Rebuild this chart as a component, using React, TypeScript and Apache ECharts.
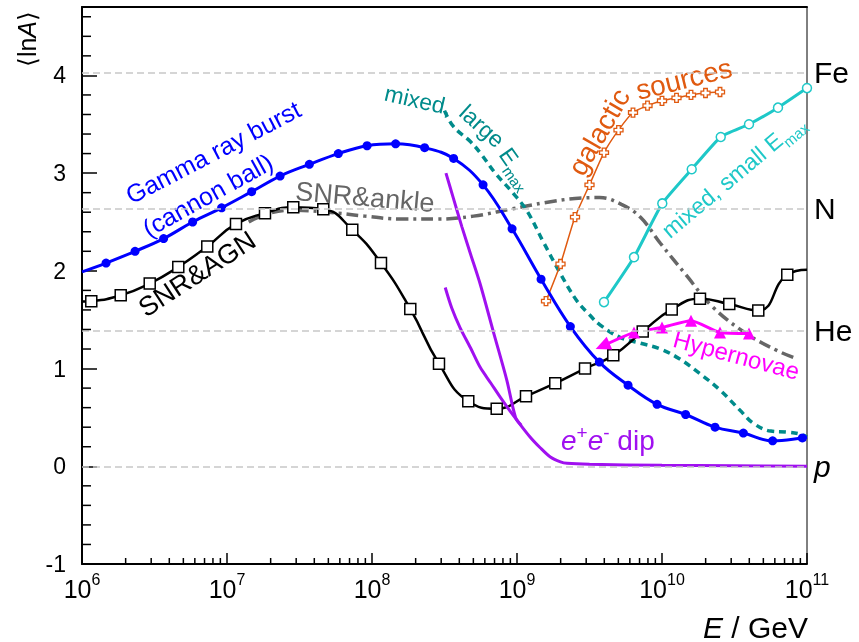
import React, { useEffect, useRef } from 'react';
import * as echarts from 'echarts';

const FONT = '"Liberation Sans", Arial, Helvetica, sans-serif';

// ---- data (x: log10(E/GeV), y: <lnA>) ----
// SNR & AGN (black, open squares)
const snrAgnLogE = [6.0, 6.064, 6.267, 6.467, 6.664, 6.864, 7.062, 7.262, 7.457, 7.664, 7.864, 8.062, 8.264, 8.462, 8.664, 8.86, 9.062, 9.264, 9.469, 9.664, 9.867, 10.067, 10.262, 10.464, 10.664, 10.864, 11.0];
const snrAgnLnA = [1.685, 1.69, 1.75, 1.87, 2.04, 2.25, 2.48, 2.59, 2.65, 2.63, 2.42, 2.08, 1.61, 1.05, 0.665, 0.59, 0.716, 0.85, 1.0, 1.135, 1.38, 1.605, 1.715, 1.66, 1.595, 1.96, 2.01];

// Gamma ray burst (cannon ball) (blue, filled circles)
const grbLogE = [6.0, 6.166, 6.366, 6.563, 6.763, 6.963, 7.17, 7.366, 7.568, 7.768, 7.966, 8.163, 8.363, 8.563, 8.766, 8.966, 9.166, 9.368, 9.568, 9.766, 9.966, 10.163, 10.366, 10.561, 10.763, 10.968, 11.0];
const grbLnA = [1.99, 2.08, 2.2, 2.33, 2.5, 2.645, 2.81, 2.97, 3.09, 3.2, 3.28, 3.3, 3.26, 3.15, 2.88, 2.43, 1.915, 1.43, 1.066, 0.83, 0.634, 0.53, 0.4, 0.34, 0.26, 0.29, 0.3];

// SNR & ankle (grey dash-dot)
const ankleLogE = [7.15, 7.27, 7.45, 7.7, 7.95, 8.2, 8.45, 8.7, 8.95, 9.2, 9.4, 9.57, 9.72, 9.85, 9.99, 10.17, 10.35, 10.58, 10.8, 10.93];
const ankleLnA = [2.5, 2.58, 2.62, 2.6, 2.56, 2.53, 2.53, 2.56, 2.63, 2.7, 2.74, 2.75, 2.68, 2.55, 2.28, 1.95, 1.63, 1.36, 1.18, 1.1];

// mixed, large Emax (teal dashed)
const largeLogE = [8.5, 8.56, 8.68, 8.75, 8.85, 8.97, 9.07, 9.18, 9.3, 9.41, 9.5, 9.57, 9.71, 9.85, 9.99, 10.12, 10.26, 10.4, 10.54, 10.63, 10.75, 10.86, 10.95, 11.0];
const largeLnA = [3.64, 3.48, 3.32, 3.2, 3.0, 2.8, 2.61, 2.3, 1.97, 1.7, 1.55, 1.45, 1.32, 1.26, 1.2, 1.1, 0.95, 0.78, 0.57, 0.44, 0.36, 0.35, 0.33, 0.3];

// mixed, small Emax (cyan, open circles)
const smallLogE = [9.6, 9.807, 10.002, 10.205, 10.405, 10.6, 10.8, 11.0];
const smallLnA = [1.68, 2.14, 2.69, 3.04, 3.37, 3.5, 3.67, 3.87];

// galactic sources (orange, open crosses)
const galLogE = [9.2, 9.3, 9.4, 9.5, 9.6, 9.7, 9.8, 9.9, 10.0, 10.1, 10.2, 10.3, 10.4];
const galLnA = [1.69, 2.07, 2.55, 2.88, 3.21, 3.44, 3.62, 3.69, 3.74, 3.77, 3.8, 3.82, 3.83];

// e+e- dip (violet, two branches)
const dipSteepLogE = [8.51, 8.56, 8.62, 8.68, 8.745, 8.84, 8.93, 8.99, 9.03];
const dipSteepLnA = [3.0, 2.75, 2.45, 2.17, 1.87, 1.36, 0.88, 0.5, 0.42];
const dipLogE = [8.505, 8.55, 8.607, 8.68, 8.745, 8.82, 8.883, 8.94, 8.99, 9.09, 9.16, 9.23, 9.3, 9.345, 9.5, 10.0, 10.5, 11.0];
const dipLnA = [1.83, 1.62, 1.42, 1.21, 1.015, 0.85, 0.71, 0.59, 0.49, 0.3, 0.19, 0.095, 0.045, 0.03, 0.02, 0.01, 0.005, 0.0];

// Hypernovae (magenta, filled triangles, arrow at low-energy end)
const hnLogE = [9.59, 9.807, 10.0, 10.2, 10.4, 10.6];
const hnLnA = [1.23, 1.37, 1.42, 1.49, 1.37, 1.36];

// reference masses
const massNames = ['Fe', 'N', 'He', 'p'];
const massLnA = [4.025, 2.639, 1.386, 0];

// axis ticks
const yMinorTicks = [-0.8, -0.6, -0.4, -0.2, 0.2, 0.4, 0.6, 0.8, 1.2, 1.4, 1.6, 1.8, 2.2, 2.4, 2.6, 2.8, 3.2, 3.4, 3.6, 3.8, 4.2, 4.4, 4.6];
const xDecades = [6, 7, 8, 9, 10];
const xMultipliers = [2, 3, 4, 5, 6, 7, 8, 9];

const deg = (d: number) => (d * Math.PI) / 180;

function pts(logE: number[], lnA: number[], bare: number[] = []) {
  return logE.map((lg, i) => {
    const item: any = { value: [Math.pow(10, lg), lnA[i]] };
    if (bare.indexOf(i) >= 0) item.symbol = 'none';
    return item;
  });
}

const subRich = (big: number, small: number, color: string) => ({
  a: { fontSize: big, lineHeight: big, fontFamily: FONT, fill: color, verticalAlign: 'top' },
  s: { fontSize: small, lineHeight: small, fontFamily: FONT, fill: color, verticalAlign: 'top', padding: [Math.round(big * 0.55), 0, 0, 0] },
});

const label = (text: string, x: number, y: number, rot: number, color: string, size: number) => ({
  type: 'text',
  x,
  y,
  rotation: deg(rot),
  style: { text, fill: color, fontSize: size, fontFamily: FONT, align: 'center', verticalAlign: 'middle' },
});

export default function App() {
  const ref = useRef<HTMLDivElement>(null);

  useEffect(() => {
    if (!ref.current) return;
    const chart = echarts.init(ref.current, null, { renderer: 'svg' });

    const xMinor: number[][] = [];
    xDecades.forEach((n) => xMultipliers.forEach((k) => xMinor.push([k * Math.pow(10, n), -1])));

    const hnData: any[] = pts(hnLogE, hnLnA);
    hnData[0] = { value: hnData[0].value, symbol: 'triangle', symbolSize: [14, 15], symbolRotate: 113 };

    const option: any = {
      animation: false,
      textStyle: { fontFamily: FONT },
      grid: { left: 82, top: 7, width: 725, height: 557, show: true, borderColor: '#000', borderWidth: 1, backgroundColor: 'transparent' },
      xAxis: [
        {
          type: 'log',
          logBase: 10,
          min: 1e6,
          max: 1e11,
          axisLine: { onZero: false, lineStyle: { color: '#000', width: 2 } },
          axisTick: { inside: true, length: 11, lineStyle: { color: '#000', width: 1.5 } },
          splitLine: { show: false },
          minorTick: { show: false },
          axisLabel: {
            margin: 12,
            formatter: (v: number) => `{b|10}{s|${Math.round(Math.log10(v))}}`,
            rich: {
              b: { fontSize: 25, lineHeight: 25, fontFamily: FONT, color: '#000', verticalAlign: 'bottom' },
              s: { fontSize: 16, lineHeight: 16, fontFamily: FONT, color: '#000', verticalAlign: 'bottom', padding: [0, 0, 14, 0] },
            },
          },
        },
        {
          type: 'log',
          logBase: 10,
          min: 1e6,
          max: 1e11,
          position: 'top',
          axisLine: { onZero: false, lineStyle: { color: '#000', width: 2 } },
          axisTick: { show: false },
          axisLabel: { show: false },
          splitLine: { show: false },
        },
      ],
      yAxis: {
        type: 'value',
        min: -1,
        max: 4.7,
        interval: 1,
        axisLine: { show: true, onZero: false, lineStyle: { color: '#000', width: 2 } },
        axisTick: { show: true, inside: true, length: 15, lineStyle: { color: '#000', width: 1.5 } },
        splitLine: { show: false },
        axisLabel: { showMaxLabel: false, color: '#000', fontSize: 23, fontFamily: FONT, margin: 16 },
      },
      series: [
        {
          type: 'line',
          data: [],
          silent: true,
          markLine: {
            silent: true,
            symbol: ['none', 'none'],
            lineStyle: { color: '#c8c8c8', type: [7, 4], width: 1.5 },
            label: { show: true, position: 'end', distance: 7, fontSize: 30, color: '#000', fontFamily: FONT, formatter: (p: any) => p.name },
            data: massNames.map((n, i) => ({
              yAxis: massLnA[i],
              name: n,
              label: n === 'p' ? { fontStyle: 'italic', padding: [0, 0, 28, 0] } : {},
            })),
          },
        },
        {
          name: 'SNR&ankle',
          type: 'line',
          data: pts(ankleLogE, ankleLnA),
          smooth: 0.4,
          symbol: 'none',
          lineStyle: { color: '#666666', width: 3.5, type: [12, 5, 3, 5] },
        },
        {
          name: 'mixed, large Emax',
          type: 'line',
          data: pts(largeLogE, largeLnA),
          smooth: 0.4,
          symbol: 'none',
          lineStyle: { color: '#008b8b', width: 3.5, type: [7, 5] },
        },
        {
          name: 'SNR&AGN',
          type: 'line',
          data: pts(snrAgnLogE, snrAgnLnA, [0, snrAgnLogE.length - 1]),
          smooth: 0.5,
          symbol: 'rect',
          symbolSize: 11,
          showAllSymbol: true,
          lineStyle: { color: '#000', width: 2.5 },
          itemStyle: { color: '#fff', borderColor: '#000', borderWidth: 1.5 },
        },
        {
          name: 'e+e- dip steep',
          type: 'line',
          data: pts(dipSteepLogE, dipSteepLnA),
          smooth: 0.3,
          symbol: 'none',
          lineStyle: { color: '#a010f0', width: 3 },
        },
        {
          name: 'e+e- dip',
          type: 'line',
          data: pts(dipLogE, dipLnA),
          smooth: 0.3,
          symbol: 'none',
          lineStyle: { color: '#a010f0', width: 3 },
        },
        {
          name: 'galactic sources',
          type: 'line',
          data: pts(galLogE, galLnA),
          smooth: 0.2,
          symbol: 'path://M3,0H7V3H10V7H7V10H3V7H0V3H3Z',
          symbolSize: 9,
          showAllSymbol: true,
          lineStyle: { color: '#e05a10', width: 1.5 },
          itemStyle: { color: '#fff', borderColor: '#e05a10', borderWidth: 1.3 },
        },
        {
          name: 'mixed, small Emax',
          type: 'line',
          data: pts(smallLogE, smallLnA),
          smooth: 0.15,
          symbol: 'circle',
          symbolSize: 9,
          showAllSymbol: true,
          lineStyle: { color: '#1ec8c8', width: 3 },
          itemStyle: { color: '#fff', borderColor: '#1ec8c8', borderWidth: 1.5 },
        },
        {
          name: 'Hypernovae',
          type: 'line',
          data: hnData,
          smooth: 0.2,
          symbol: 'triangle',
          symbolSize: 12,
          showAllSymbol: true,
          lineStyle: { color: '#ff00ff', width: 3 },
          itemStyle: { color: '#ff00ff' },
        },
        {
          name: 'Gamma ray burst',
          type: 'line',
          data: pts(grbLogE, grbLnA, [0, grbLogE.length - 1]),
          smooth: 0.4,
          symbol: 'circle',
          symbolSize: 9,
          showAllSymbol: true,
          lineStyle: { color: '#0000ff', width: 3 },
          itemStyle: { color: '#0000ff' },
        },
        {
          type: 'custom',
          silent: true,
          clip: false,
          z: 10,
          data: xMinor,
          renderItem: (_p: any, api: any) => {
            const c = api.coord([api.value(0), api.value(1)]);
            return { type: 'line', shape: { x1: c[0], y1: c[1], x2: c[0], y2: c[1] - 6 }, style: { stroke: '#000', lineWidth: 1.5 } };
          },
        },
        {
          type: 'custom',
          silent: true,
          clip: false,
          z: 10,
          data: yMinorTicks.map((v) => [1e6, v]),
          renderItem: (_p: any, api: any) => {
            const c = api.coord([api.value(0), api.value(1)]);
            return { type: 'line', shape: { x1: c[0], y1: c[1], x2: c[0] + 9, y2: c[1] }, style: { stroke: '#000', lineWidth: 1.5 } };
          },
        },
      ],
      graphic: [
        {
          type: 'text', x: 26.5, y: 39, rotation: deg(90),
          style: {
            text: '{n|⟨ln}{i|A}{n|⟩}', align: 'center', verticalAlign: 'middle',
            rich: {
              n: { fontSize: 25, fontFamily: FONT, fill: '#000' },
              i: { fontSize: 25, fontFamily: FONT, fontStyle: 'italic', fill: '#000' },
            },
          },
        },
        {
          type: 'text', x: 808, y: 627,
          style: {
            text: '{i|E}{n| / GeV}', align: 'right', verticalAlign: 'middle',
            rich: {
              n: { fontSize: 30, fontFamily: FONT, fill: '#000' },
              i: { fontSize: 30, fontFamily: FONT, fontStyle: 'italic', fill: '#000' },
            },
          },
        },
        label('Gamma ray burst', 213, 152, 27.5, '#0000ff', 25),
        label('(cannon ball)', 207.5, 195, 29, '#0000ff', 25),
        label('SNR&ankle', 365, 197, -5, '#666666', 27),
        label('SNR&AGN', 197, 274, 33, '#000', 27),
        label('mixed,', 418, 100, -13, '#008b8b', 23),
        label('large', 482, 126, -42, '#008b8b', 23),
        {
          type: 'text', x: 517, y: 168, rotation: deg(-55),
          style: { text: '{a|E}{s|max}', align: 'center', verticalAlign: 'middle', rich: subRich(23, 15, '#008b8b') },
        },
        label('galactic', 599, 132, 60, '#e05a10', 28),
        label('sources', 684, 79, 14, '#e05a10', 28),
        {
          type: 'text', x: 733, y: 176, rotation: deg(40),
          style: { text: '{a|mixed, small E}{s|max}', align: 'center', verticalAlign: 'middle', rich: subRich(23, 15, '#1ec8c8') },
        },
        label('Hypernovae', 736.5, 355, -15, '#ff00ff', 24),
        {
          type: 'text', x: 561, y: 440,
          style: {
            text: '{i|e}{p|+}{i|e}{p|-}{n| dip}', align: 'left', verticalAlign: 'middle',
            rich: {
              i: { fontSize: 28, lineHeight: 28, fontFamily: FONT, fontStyle: 'italic', fill: '#a010f0', verticalAlign: 'bottom' },
              n: { fontSize: 28, lineHeight: 28, fontFamily: FONT, fill: '#a010f0', verticalAlign: 'bottom' },
              p: { fontSize: 19, lineHeight: 19, fontFamily: FONT, fill: '#a010f0', verticalAlign: 'bottom', padding: [0, 0, 12, 0] },
            },
          },
        },
      ],
    };

    chart.setOption(option);
    return () => chart.dispose();
  }, []);

  return <div ref={ref} style={{ position: 'fixed', left: 0, top: 0, width: 859, height: 642 }} />;
}
